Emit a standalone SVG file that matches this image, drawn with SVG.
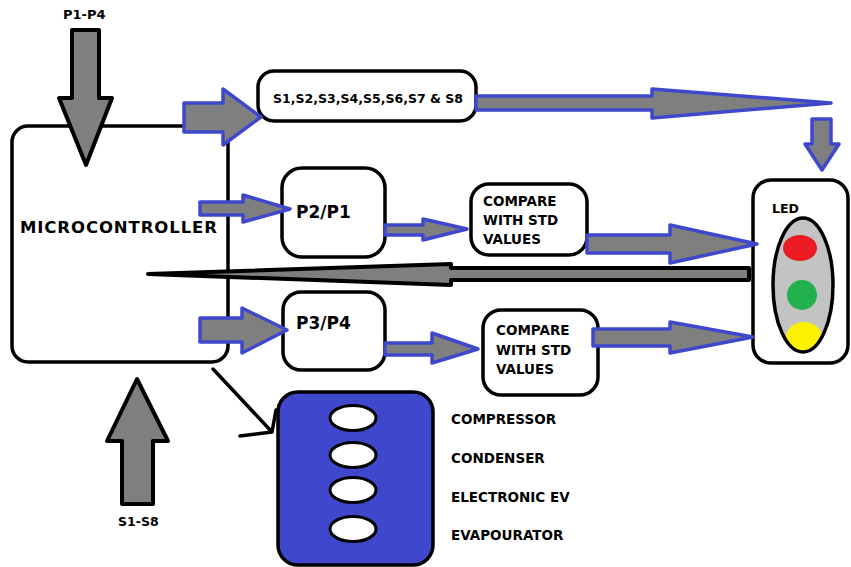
<svg xmlns="http://www.w3.org/2000/svg" width="851" height="567" viewBox="0 0 851 567">
  <style>
    .box { fill: #ffffff; stroke: #000000; stroke-width: 3.5; }
    .lbl { font-family: "DejaVu Sans", Verdana, sans-serif; font-weight: bold; fill: #000000; }
    .barrow { fill: #7f7f7f; stroke: #3f48cc; stroke-width: 3.5; stroke-linejoin: round; }
    .karrow { fill: #7f7f7f; stroke: #000000; stroke-width: 4; stroke-linejoin: round; }
    .port { fill: #ffffff; stroke: #000000; stroke-width: 3; }
  </style>

  <!-- microcontroller -->
  <g id="mcu">
    <rect class="box" x="12" y="126" width="216" height="236" rx="16"/>
    <text class="lbl" x="20" y="233" font-size="16.5" textLength="197">MICROCONTROLLER</text>
  </g>

  <!-- sensor block -->
  <g id="sensors">
    <rect class="box" x="258" y="71" width="218" height="50" rx="16"/>
    <text class="lbl" x="273" y="103" font-size="12.5" textLength="190">S1,S2,S3,S4,S5,S6,S7 &amp; S8</text>
  </g>

  <g id="ratio1">
    <rect class="box" x="282" y="168" width="103" height="89" rx="20"/>
    <text class="lbl" x="296" y="218" font-size="17">P2/P1</text>
  </g>

  <g id="compare1">
    <rect class="box" x="471" y="184" width="116" height="71" rx="18"/>
    <text class="lbl" x="483" y="206" font-size="13.5">COMPARE</text>
    <text class="lbl" x="483" y="225" font-size="13.5">WITH STD</text>
    <text class="lbl" x="483" y="244" font-size="13.5">VALUES</text>
  </g>

  <g id="ratio2">
    <rect class="box" x="283" y="292" width="102" height="78" rx="18"/>
    <text class="lbl" x="296" y="329" font-size="17">P3/P4</text>
  </g>

  <g id="compare2">
    <rect class="box" x="483" y="310" width="115" height="85" rx="18"/>
    <text class="lbl" x="496" y="335" font-size="13.5">COMPARE</text>
    <text class="lbl" x="496" y="355" font-size="13.5">WITH STD</text>
    <text class="lbl" x="496" y="374" font-size="13.5">VALUES</text>
  </g>

  <!-- indicator lamp -->
  <g id="led">
    <rect class="box" x="753" y="180" width="95" height="183" rx="18"/>
    <text class="lbl" x="772" y="213" font-size="12.5">LED</text>
    <clipPath id="lampClip">
      <ellipse cx="803" cy="285" rx="30" ry="67"/>
    </clipPath>
    <ellipse cx="803" cy="285" rx="30" ry="67" fill="#c3c3c3"/>
    <g clip-path="url(#lampClip)">
      <ellipse cx="800" cy="248" rx="17" ry="13" fill="#ed1c24"/>
      <circle cx="802" cy="295" r="15" fill="#22b14c"/>
      <ellipse cx="804" cy="337" rx="18" ry="15" fill="#fff200"/>
    </g>
    <ellipse cx="803" cy="285" rx="30" ry="67" fill="none" stroke="#000000" stroke-width="3.5"/>
  </g>

  <!-- refrigeration unit -->
  <g id="unit">
    <rect x="278" y="392" width="155" height="173" rx="20" fill="#3f48cc" stroke="#000000" stroke-width="3.5"/>
    <ellipse class="port" cx="353" cy="418" rx="23" ry="12.5"/>
    <ellipse class="port" cx="353" cy="455" rx="23" ry="12.5"/>
    <ellipse class="port" cx="353" cy="490" rx="23" ry="12.5"/>
    <ellipse class="port" cx="353" cy="529" rx="23" ry="12.5"/>
    <text class="lbl" x="451" y="424" font-size="13.5">COMPRESSOR</text>
    <text class="lbl" x="451" y="463" font-size="13.5">CONDENSER</text>
    <text class="lbl" x="451" y="502" font-size="13.5">ELECTRONIC EV</text>
    <text class="lbl" x="451" y="540" font-size="13.5">EVAPOURATOR</text>
  </g>

  <!-- input labels -->
  <g id="in-p">
    <text class="lbl" x="63" y="19" font-size="13">P1-P4</text>
  </g>
  <g id="in-s">
    <text class="lbl" x="118" y="526" font-size="12.5">S1-S8</text>
  </g>

  <!-- connectors -->
  <g id="connectors">
    <polygon class="karrow" points="72,30 99,30 99,98 112,98 86,165 59,98 72,98"/>
    <polygon class="karrow" points="137,379 168,441 153,441 153,504 122,504 122,441 107,441"/>

    <polygon class="barrow" points="184,103 223,103 223,89 261,117 223,145 223,132 184,132"/>
    <polygon class="barrow" points="476,96 652,96 652,89 831,103 652,118 652,110 476,110"/>
    <polygon class="barrow" points="812,119 831,119 831,144 839,144 822,170 805,144 812,144"/>

    <polygon class="barrow" points="200,202 243,202 243,195 290,209 243,222 243,215 200,215"/>
    <polygon class="barrow" points="385,225 423,225 423,219 467,229 423,240 423,235 385,235"/>
    <polygon class="barrow" points="587,235 670,235 670,225 757,244 670,263 670,253 587,253"/>

    <polygon class="barrow" points="200,318 242,318 242,308 287,330 242,353 242,342 200,342"/>
    <polygon class="barrow" points="385,343 432,343 432,333 478,349 432,363 432,355 385,355"/>
    <polygon class="barrow" points="593,329 670,329 670,322 753,337 670,353 670,346 593,346"/>

    <!-- feedback needle from the lamp back to the controller -->
    <polygon points="148,274 451,264 451,268 749,268 749,280 451,280 451,285"
             fill="#7f7f7f" stroke="#000000" stroke-width="4" stroke-linejoin="round"/>

    <!-- controller to unit -->
    <path d="M213,369 L272,432 M240,436 L272,432 L276,410" fill="none" stroke="#000000" stroke-width="3.5" stroke-linecap="round" stroke-linejoin="round"/>
  </g>
</svg>
